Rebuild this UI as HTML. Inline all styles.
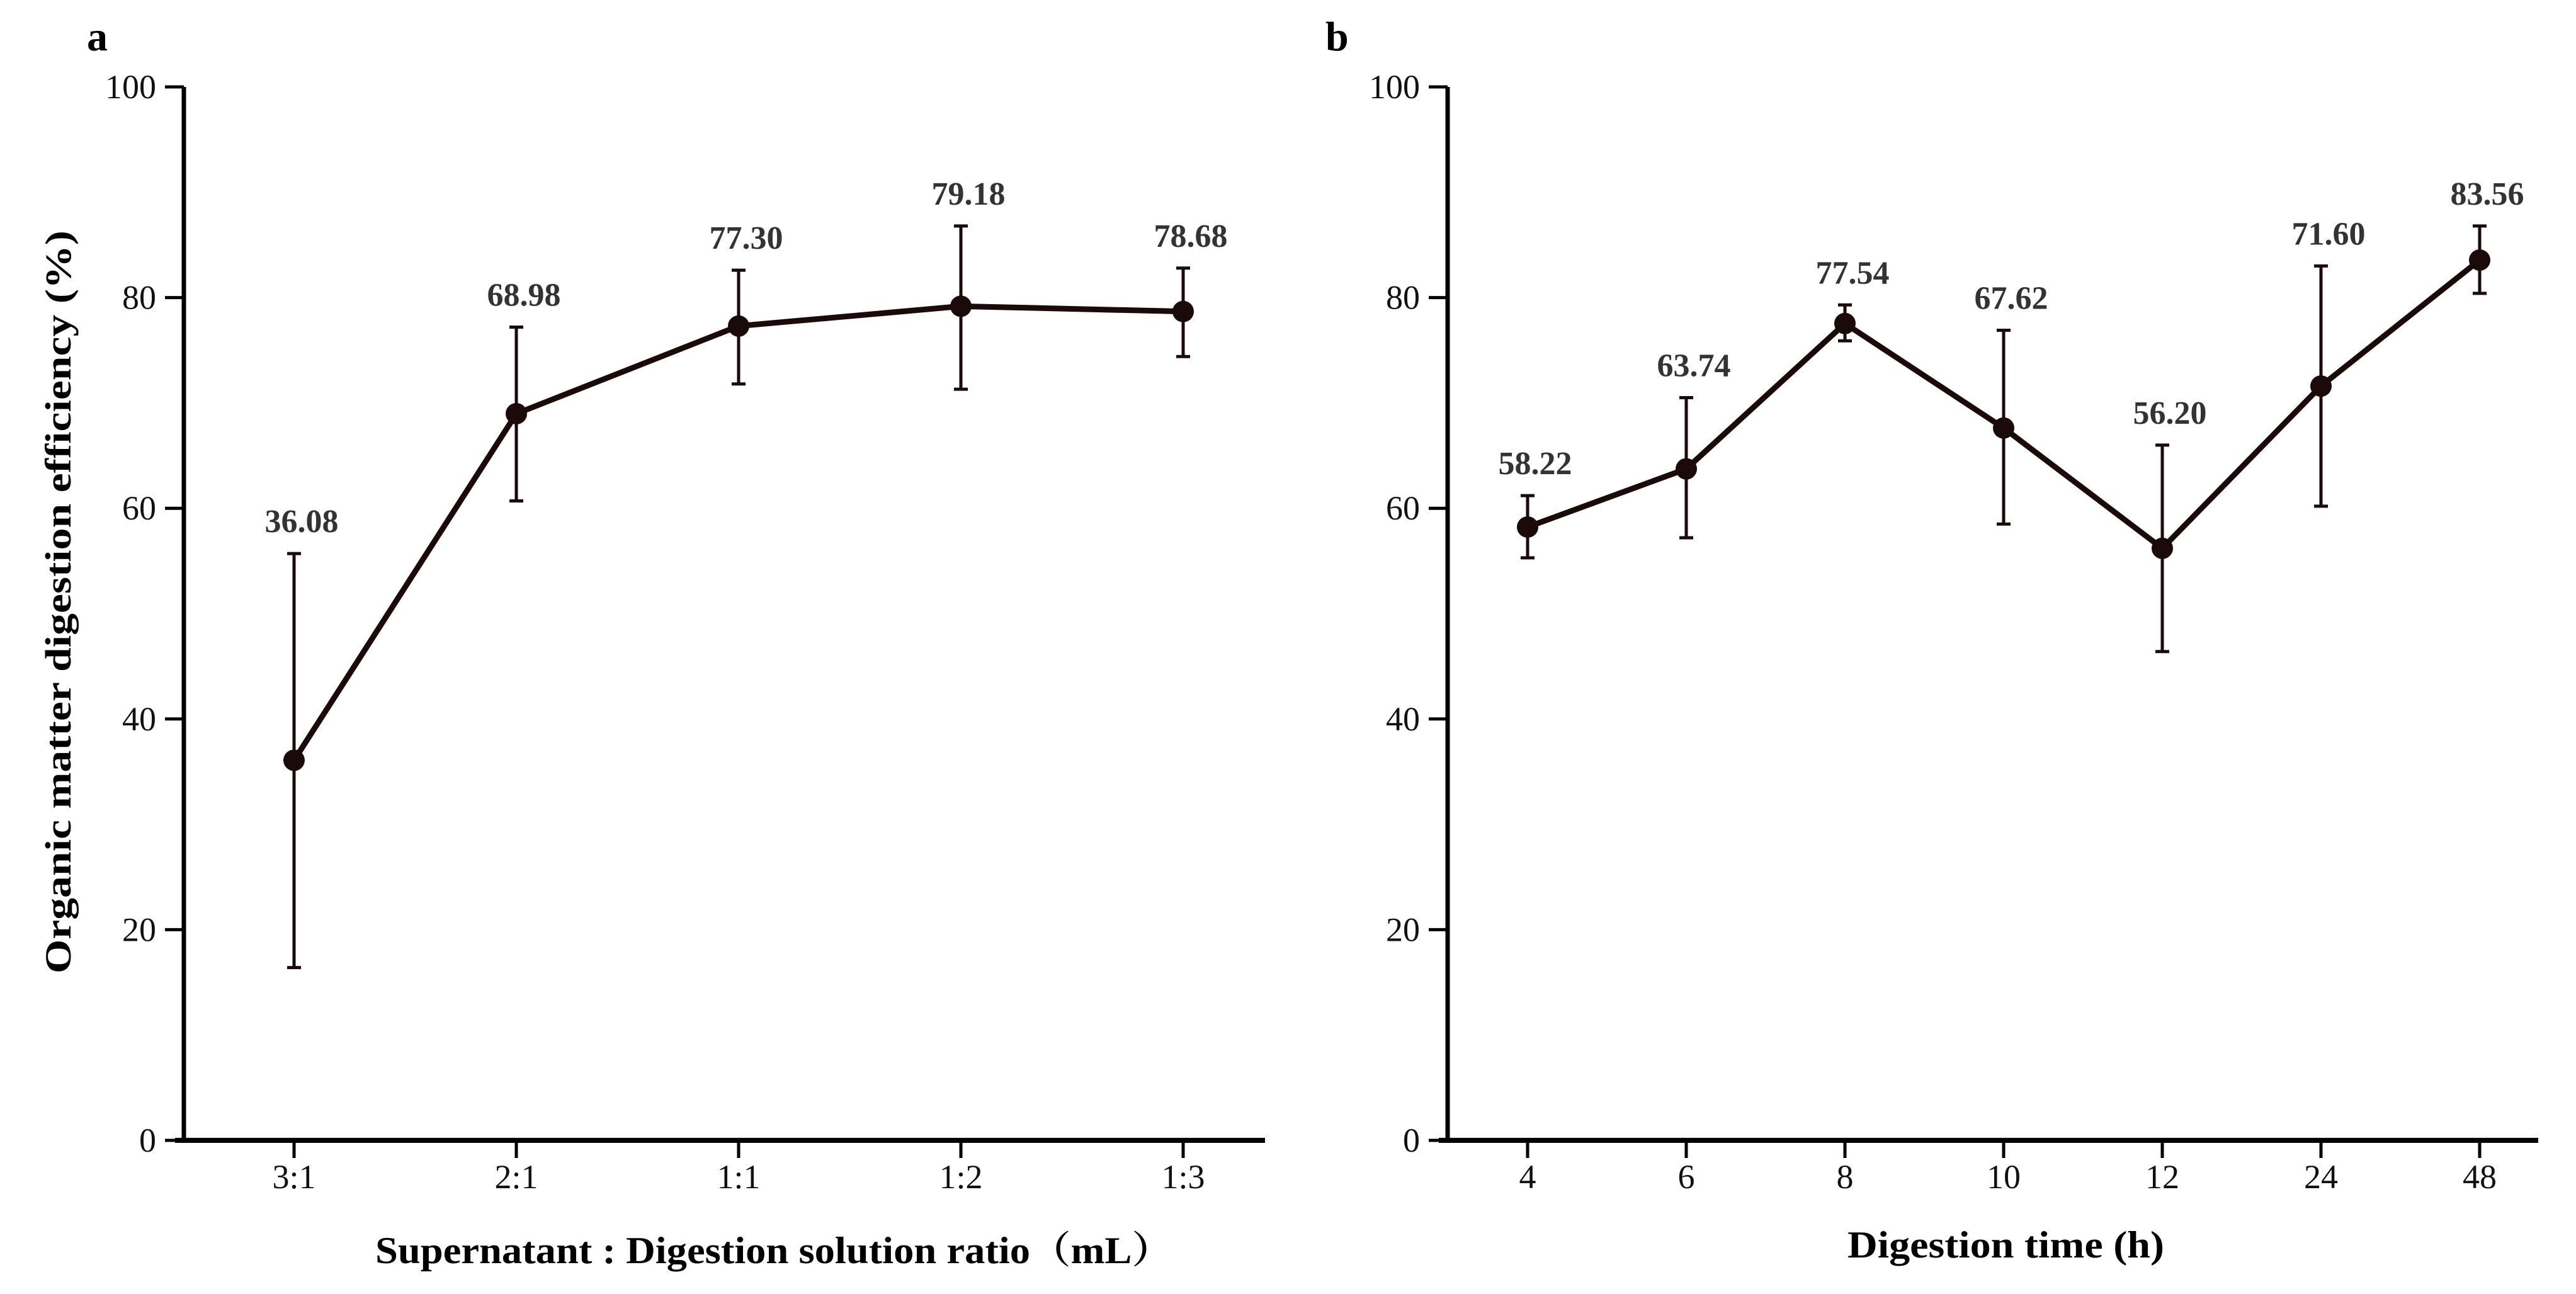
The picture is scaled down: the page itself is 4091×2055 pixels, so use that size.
<!DOCTYPE html>
<html><head><meta charset="utf-8"><style>
html,body{margin:0;padding:0;background:#fff;}
svg{display:block;}
text{font-family:"Liberation Serif","Noto Serif CJK SC",serif;}
</style></head>
<body>
<svg id="chart" width="4091" height="2055" viewBox="0 0 4091 2055" xmlns="http://www.w3.org/2000/svg">
<text x="138" y="80" font-size="66" font-weight="bold">a</text>
<text x="2105" y="80" font-size="66" font-weight="bold">b</text>
<text transform="translate(112,956) rotate(-90)" text-anchor="middle" font-size="58" font-weight="bold" textLength="1180" lengthAdjust="spacingAndGlyphs">Organic matter digestion efficiency (%)</text>
<text x="596" y="2006" font-size="60" font-weight="bold" textLength="1266" lengthAdjust="spacingAndGlyphs">Supernatant : Digestion solution ratio（mL）</text>
<text x="2934" y="1997" font-size="60" font-weight="bold" textLength="503" lengthAdjust="spacingAndGlyphs">Digestion time (h)</text>
</svg>
<script>
const catsA = ["3:1","2:1","1:1","1:2","1:3"];
const valsA = [36.08,68.98,77.30,79.18,78.68];
const hiA = [55.7,77.2,82.6,86.8,82.8];
const loA = [16.4,60.7,71.8,71.3,74.4];
const catsB = ["4","6","8","10","12","24","48"];
const valsB = [58.22,63.74,77.54,67.62,56.20,71.60,83.56];
const hiB = [61.2,70.5,79.3,76.9,66.0,83.0,86.8];
const loB = [55.3,57.2,75.9,58.5,46.4,60.2,80.4];
const yTicks = [0,20,40,60,80,100];

const svg = document.getElementById('chart');
const NS = "http://www.w3.org/2000/svg";
function mk(tag, attrs, parent){
  const e = document.createElementNS(NS, tag);
  for (const k in attrs) e.setAttribute(k, attrs[k]);
  (parent||svg).appendChild(e);
  return e;
}
const Y0 = 1811, Y100 = 138;
function yS(v){ return Y0 - (Y0 - Y100) * v / 100; }

function panel(id, axisX, axisEnd, firstX, step, cats, vals, hi, lo){
  const g = mk('g', {});
  
  
  function xS(i){ return firstX + step * i; }
  const ya = mk('line', {x1:axisX, y1:Y100, x2:axisX, y2:Y0+4, stroke:'#000','stroke-width':7}, g);
  
  
  const xa = mk('line', {x1:axisX-14, y1:Y0, x2:axisEnd, y2:Y0, stroke:'#000','stroke-width':8}, g);
  
  
  yTicks.forEach(t => {
    const tk = mk('line', {x1:axisX-30, y1:yS(t), x2:axisX, y2:yS(t), stroke:'#000','stroke-width':5}, g);
    
    
    const tl = mk('text', {x:axisX-44, y:yS(t)+18, 'text-anchor':'end','font-size':54,fill:'#111'}, g);
    
    
    tl.textContent = t;
  });
  cats.forEach((c,i) => {
    const tk = mk('line', {x1:xS(i), y1:Y0, x2:xS(i), y2:Y0+28, stroke:'#000','stroke-width':5}, g);
    
    
    const tl = mk('text', {x:xS(i), y:1887, 'text-anchor':'middle','font-size':54,fill:'#111'}, g);
    
    
    tl.textContent = c;
  });
  cats.forEach((c,i) => {
    const eb = mk('path', {d:`M${xS(i)},${yS(hi[i])}V${yS(lo[i])}M${xS(i)-11},${yS(hi[i])}H${xS(i)+11}M${xS(i)-11},${yS(lo[i])}H${xS(i)+11}`, stroke:'#1a0a0a','stroke-width':5,fill:'none'}, g);
    
    
  });
  const pts = vals.map((v,i) => xS(i) + ',' + yS(v)).join(' ');
  const ln = mk('polyline', {points:pts, fill:'none', stroke:'#1a0a0a','stroke-width':9,'stroke-linejoin':'round'}, g);
  
  
  vals.forEach((v,i) => {
    const p = mk('circle', {cx:xS(i), cy:yS(v), r:17, fill:'#1a0a0a'}, g);
    
    
    const lb = mk('text', {x:xS(i)+12, y:yS(hi[i])-34, 'text-anchor':'middle','font-size':52,'font-weight':'bold',fill:'#333'}, g);
    
    
    lb.textContent = v.toFixed(2);
  });
}
panel('a', 292, 2009, 467, 353, catsA, valsA, hiA, loA);
panel('b', 2299, 4031, 2426, 252, catsB, valsB, hiB, loB);
</script>
</body></html>
